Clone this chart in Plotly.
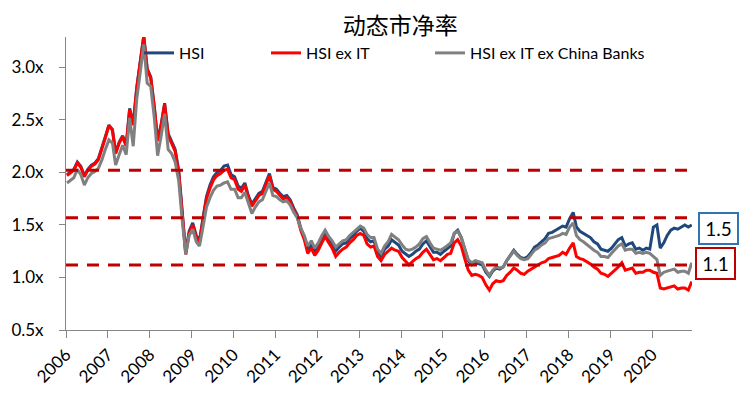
import plotly.graph_objects as go
import pandas as pd

# Monthly readings (Jan 2006 .. Dec 2020), one row per year
hsi = [
    1.98, 2.01, 2.03, 2.10, 2.06, 1.97, 2.03, 2.07, 2.09, 2.13, 2.23, 2.34,
    2.45, 2.41, 2.19, 2.29, 2.35, 2.26, 2.61, 2.46, 2.81, 3.05, 3.30, 2.99,
    2.91, 2.63, 2.31, 2.46, 2.66, 2.37, 2.30, 2.22, 2.02, 1.64, 1.24, 1.44,
    1.52, 1.40, 1.35, 1.57, 1.77, 1.88, 1.96, 2.00, 2.02, 2.06, 2.07, 1.98,
    1.96, 1.87, 1.85, 1.90, 1.78, 1.70, 1.75, 1.80, 1.82, 1.90, 1.99, 1.86,
    1.84, 1.80, 1.77, 1.78, 1.74, 1.66, 1.60, 1.47, 1.38, 1.26, 1.31, 1.24,
    1.30, 1.37, 1.43, 1.37, 1.32, 1.25, 1.29, 1.32, 1.33, 1.37, 1.40, 1.44,
    1.47, 1.44, 1.37, 1.34, 1.35, 1.24, 1.20, 1.27, 1.30, 1.36, 1.33, 1.31,
    1.25, 1.22, 1.20, 1.22, 1.25, 1.27, 1.32, 1.35, 1.29, 1.24, 1.24, 1.22,
    1.25, 1.28, 1.30, 1.42, 1.45, 1.38, 1.27, 1.16, 1.12, 1.14, 1.13, 1.12,
    1.05, 1.01, 1.06, 1.09, 1.08, 1.10, 1.16, 1.21, 1.26, 1.22, 1.19, 1.18,
    1.20, 1.24, 1.29, 1.31, 1.34, 1.37, 1.42, 1.43, 1.45, 1.47, 1.49, 1.48,
    1.56, 1.62, 1.48, 1.44, 1.42, 1.40, 1.38, 1.34, 1.32, 1.27, 1.26, 1.25,
    1.28, 1.32, 1.36, 1.38, 1.30, 1.32, 1.33, 1.27, 1.28, 1.26, 1.28, 1.27,
    1.48, 1.50, 1.28, 1.33, 1.40, 1.45, 1.47, 1.46, 1.48, 1.50, 1.48, 1.50,
]
hsi_ex_it = [
    1.97, 2.00, 2.02, 2.09, 2.05, 1.96, 2.02, 2.06, 2.08, 2.12, 2.22, 2.33,
    2.45, 2.40, 2.18, 2.28, 2.34, 2.25, 2.60, 2.45, 2.80, 3.05, 3.30, 2.98,
    2.90, 2.62, 2.30, 2.45, 2.65, 2.35, 2.28, 2.20, 2.00, 1.62, 1.22, 1.42,
    1.50, 1.38, 1.34, 1.55, 1.75, 1.85, 1.93, 1.97, 1.99, 2.02, 2.03, 1.95,
    1.93, 1.84, 1.82, 1.88, 1.76, 1.68, 1.73, 1.78, 1.80, 1.88, 1.97, 1.84,
    1.82, 1.78, 1.75, 1.76, 1.72, 1.64, 1.58, 1.45, 1.36, 1.23, 1.28, 1.21,
    1.26, 1.33, 1.39, 1.33, 1.28, 1.20, 1.24, 1.27, 1.29, 1.33, 1.36, 1.40,
    1.42, 1.40, 1.32, 1.29, 1.30, 1.20, 1.16, 1.22, 1.25, 1.28, 1.26, 1.25,
    1.19, 1.15, 1.12, 1.15, 1.18, 1.20, 1.24, 1.27, 1.22, 1.17, 1.18, 1.16,
    1.19, 1.22, 1.23, 1.33, 1.36, 1.30, 1.18, 1.07, 1.02, 1.03, 1.02, 1.00,
    0.93, 0.88, 0.94, 0.97, 0.96, 0.97, 1.02, 1.05, 1.09, 1.07, 1.04, 1.03,
    1.06, 1.08, 1.10, 1.12, 1.14, 1.15, 1.18, 1.19, 1.20, 1.21, 1.24, 1.22,
    1.28, 1.33, 1.20, 1.18, 1.17, 1.15, 1.13, 1.10, 1.08, 1.04, 1.03, 1.01,
    1.04, 1.07, 1.10, 1.14, 1.07, 1.08, 1.09, 1.04, 1.05, 1.05, 1.07, 1.07,
    1.05, 1.04, 0.90, 0.89, 0.90, 0.91, 0.92, 0.89, 0.90, 0.90, 0.88, 0.96,
]
hsi_ex_it_ex_banks = [
    1.90, 1.93, 1.95, 2.03, 1.98, 1.88, 1.95, 1.99, 2.01, 2.04, 2.12, 2.22,
    2.31, 2.28, 2.07, 2.17, 2.26, 2.17, 2.52, 2.25, 2.70, 2.95, 3.22, 2.85,
    2.82, 2.52, 2.16, 2.35, 2.56, 2.22, 2.18, 2.10, 1.92, 1.55, 1.22, 1.40,
    1.46, 1.34, 1.30, 1.48, 1.67, 1.76, 1.83, 1.87, 1.88, 1.90, 1.91, 1.84,
    1.84, 1.76, 1.76, 1.81, 1.70, 1.61, 1.67, 1.72, 1.74, 1.82, 1.90, 1.78,
    1.77, 1.74, 1.72, 1.73, 1.69, 1.62, 1.57, 1.47, 1.40, 1.30, 1.35, 1.28,
    1.33, 1.40, 1.45, 1.39, 1.35, 1.29, 1.32, 1.35, 1.36, 1.40, 1.43, 1.46,
    1.49, 1.47, 1.41, 1.38, 1.38, 1.27, 1.23, 1.30, 1.34, 1.41, 1.38, 1.36,
    1.31, 1.27, 1.26, 1.27, 1.29, 1.32, 1.37, 1.39, 1.33, 1.28, 1.27, 1.26,
    1.28, 1.31, 1.33, 1.42, 1.44, 1.38, 1.28, 1.17, 1.14, 1.16, 1.15, 1.14,
    1.07, 1.02, 1.07, 1.10, 1.09, 1.10, 1.16, 1.20, 1.25, 1.21, 1.18, 1.17,
    1.18, 1.22, 1.26, 1.28, 1.31, 1.33, 1.37, 1.38, 1.39, 1.40, 1.42, 1.41,
    1.48, 1.52, 1.40, 1.36, 1.34, 1.31, 1.29, 1.26, 1.24, 1.20, 1.20, 1.19,
    1.23, 1.27, 1.30, 1.32, 1.26, 1.27, 1.27, 1.23, 1.24, 1.23, 1.24, 1.23,
    1.20, 1.17, 1.02, 1.05, 1.06, 1.07, 1.08, 1.05, 1.06, 1.06, 1.04, 1.14,
]
series_names = ["HSI", "HSI ex IT", "HSI ex IT ex China Banks"]
ref_levels = [2.02, 1.57, 1.12]
end_labels = ["1.5", "1.1"]
title_text = "动态市净率"

dates = pd.date_range("2006-01-01", periods=len(hsi), freq="MS") + pd.Timedelta(days=9)

colors = ["#1F497D", "#FF0000", "#808080"]
legend_ids = ["legend", "legend2", "legend3"]
fig = go.Figure()
for name, vals, col, lg in zip(series_names, [hsi, hsi_ex_it, hsi_ex_it_ex_banks], colors, legend_ids):
    fig.add_trace(go.Scatter(x=dates, y=vals, mode="lines", name=name, legend=lg,
                             line=dict(color=col, width=3)))

for lv in ref_levels:
    fig.add_shape(type="line", xref="paper", x0=0, x1=1, yref="y", y0=lv, y1=lv,
                  line=dict(color="#C00000", width=3, dash="12px,9px"))

box_styles = [dict(y=1.467, color="#2E75B6", x=1.0425), dict(y=1.135, color="#C00000", x=1.037)]
for lab, st in zip(end_labels, box_styles):
    fig.add_annotation(text=lab, xref="paper", x=st["x"], xanchor="center",
                       yref="y", y=st["y"], yanchor="middle",
                       showarrow=False, font=dict(family="Lato", size=19, color="#000"),
                       bordercolor=st["color"], borderwidth=2, borderpad=3,
                       width=31, height=23, bgcolor="white")

legend_font = dict(family="Lato", size=16, color="#000")
def legend_at(xpos):
    return dict(orientation="h", x=xpos, xanchor="left", y=0.9454, yanchor="middle",
                bgcolor="rgba(0,0,0,0)", font=legend_font)

axis_font = dict(family="Lato", size=17, color="#000")
# the page body has an 8px margin, so the figure is sized 8px smaller
fig.update_layout(
    width=740, height=389,
    margin=dict(l=58, r=56, t=29, b=67),
    paper_bgcolor="white", plot_bgcolor="white",
    title=dict(text=title_text, x=0.53, xanchor="center", y=0.9537, yanchor="middle",
               font=dict(family="Noto Sans CJK SC", size=23, color="#000")),
    showlegend=True,
    legend=legend_at(0.1166),
    legend2=legend_at(0.3195),
    legend3=legend_at(0.5815),
    xaxis=dict(range=["2006-01-01", "2020-12-12"], tickformat="%Y", dtick="M12",
               tick0="2006-01-01", tickangle=-45, ticks="outside", ticklen=7,
               tickcolor="#868686", showline=True, linecolor="#868686", linewidth=1,
               showgrid=False, zeroline=False, tickfont=axis_font, automargin=False),
    yaxis=dict(range=[0.5, 3.29], tick0=0.5, dtick=0.5, tickformat=".1f", ticksuffix="x",
               ticks="outside", ticklen=6, tickcolor="#868686", showline=True,
               linecolor="#868686", linewidth=1, showgrid=False, zeroline=False,
               tickfont=axis_font, ticklabelstandoff=12, automargin=False),
)

fig.write_html("out.html")
